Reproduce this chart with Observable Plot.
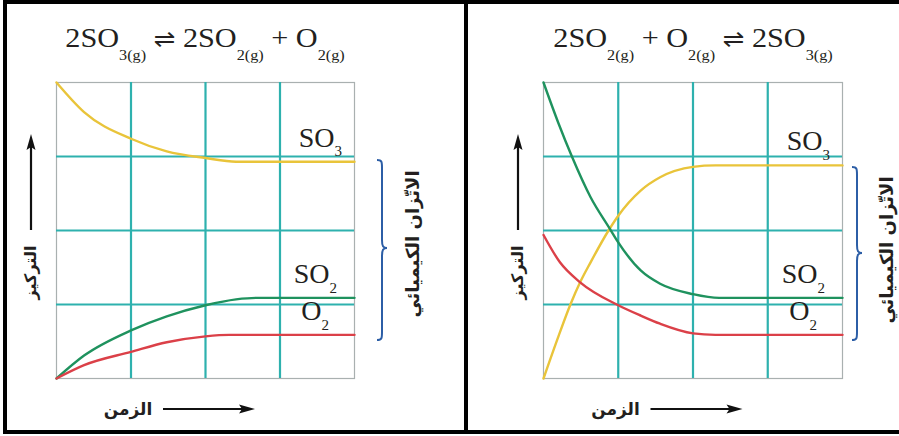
<!DOCTYPE html>
<html>
<head>
<meta charset="utf-8">
<script src="https://cdn.jsdelivr.net/npm/d3@7"></script>
<script src="https://cdn.jsdelivr.net/npm/@observablehq/plot@0.6"></script>
<style>
  body { margin: 0; background: #fff; }
  #page { position: relative; width: 899px; height: 436px; overflow: hidden; background: #fff; }
  .chart { position: absolute; top: 0; }
  .chart svg { background: transparent; }
  .border { position: absolute; left: 3px; top: 0; width: 960px; height: 434px; border: 4px solid #000; box-sizing: border-box; z-index: 5; pointer-events: none; }
  .divider { position: absolute; left: 464px; top: 0; width: 4px; height: 434px; background: #000; z-index: 5; }
  .title { position: absolute; top: 22px; font-family: "Liberation Serif", serif; font-size: 28px; line-height: 32px;
           white-space: nowrap; transform: translateX(-50%) scaleX(1.08); color: #231f20; z-index: 4; }
  .title sub { font-size: 15px; vertical-align: -13px; line-height: 0; }
  .title .arr { font-family: "DejaVu Sans", sans-serif; font-size: 24px; }
</style>
</head>
<body>
<div id="page">
  <div class="border"></div>
  <div class="divider"></div>
</div>
<script>
// ---------- data ----------
const species = ["SO3", "SO2", "O2"];
const speciesMain = ["SO", "SO", "O"];
const speciesSub = ["3", "2", "2"];
const speciesColors = ["#e9c43a", "#1f925e", "#db4048"];
const gridTicks = [1, 2, 3];

const yLabel = "التركيز";
const xLabel = "الزمن";
const eqLabel = "الاتّزان الكيميائي";

// equation titles: [main text, subscript]
const leftEquation = [["2SO", "3(g)"], ["⇌", ""], ["2SO", "2(g)"], ["+", ""], ["O", "2(g)"]];
const rightEquation = [["2SO", "2(g)"], ["+", ""], ["O", "2(g)"], ["⇌", ""], ["2SO", "3(g)"]];

// left panel: 2SO3 -> 2SO2 + O2
const leftTimeSO3 = [0, 0.37, 1.0, 1.48, 2.0, 2.41, 3, 4];
const leftSO3     = [4.0, 3.60, 3.24, 3.07, 2.98, 2.93, 2.93, 2.93];
const leftTimeSO2 = [0, 0.37, 1.0, 1.48, 2.0, 2.41, 2.68, 3, 4];
const leftSO2     = [0, 0.31, 0.65, 0.84, 0.99, 1.07, 1.09, 1.09, 1.09];
const leftTimeO2  = [0, 0.37, 1.0, 1.48, 2.0, 2.32, 3, 4];
const leftO2      = [0, 0.18, 0.36, 0.49, 0.57, 0.59, 0.59, 0.59];

// right panel: 2SO2 + O2 -> 2SO3
const rightTimeSO3 = [0, 0.2, 0.36, 0.49, 0.63, 0.87, 1.0, 1.3, 1.56, 2.0, 2.3, 3, 4];
const rightSO3     = [0, 0.57, 1.0, 1.30, 1.57, 2.0, 2.2, 2.54, 2.72, 2.86, 2.88, 2.88, 2.88];
const rightTimeSO2 = [0, 0.2, 0.38, 0.63, 0.89, 1.0, 1.3, 1.56, 2.0, 2.35, 3, 4];
const rightSO2     = [4.0, 3.45, 3.0, 2.45, 2.02, 1.84, 1.46, 1.28, 1.14, 1.09, 1.09, 1.09];
const rightTimeO2  = [0, 0.22, 0.49, 1.0, 1.3, 1.56, 2.0, 2.3, 3, 4];
const rightO2      = [1.94, 1.57, 1.30, 0.99, 0.85, 0.74, 0.61, 0.59, 0.59, 0.59];

// ---------- drawing ----------
const FONT_SERIF = "Liberation Serif";
const FONT_AR = "DejaVu Sans";
const TEAL = "#2eb1ae";
const labelDx = {SO3: -20, SO2: -25, O2: -33};

function buildRows(times, values) {
  return species.flatMap((s, k) => times[k].map((t, i) => ({species: s, t, c: values[k][i]})));
}

function centerText(svgEl, str, cxT, cyT) {
  const el = [...svgEl.querySelectorAll("text")].find(t => t.textContent === str);
  if (!el) return;
  const r = el.getBoundingClientRect(), s = svgEl.getBoundingClientRect();
  const ddx = cxT - (r.left - s.left + r.width / 2);
  const ddy = cyT - (r.top - s.top + r.height / 2);
  el.setAttribute("transform", `translate(${ddx},${ddy}) ` + (el.getAttribute("transform") || ""));
}

function makePanel(cfg) {
  const rows = buildRows(cfg.times, cfg.values);
  const last = species.map((s, k) => ({species: s, k, t: cfg.times[k][cfg.times[k].length - 1], c: cfg.values[k][cfg.values[k].length - 1]}));
  const labelMarks = last.flatMap(d => [
    Plot.text([d], {x: "t", y: "c", text: () => speciesMain[d.k], textAnchor: "end", dx: labelDx[d.species], dy: -24,
      fontSize: 28, fontFamily: FONT_SERIF, fill: "#231f20"}),
    Plot.text([d], {x: "t", y: "c", text: () => speciesSub[d.k], textAnchor: "start", dx: labelDx[d.species], dy: -10,
      fontSize: 15, fontFamily: FONT_SERIF, fill: "#231f20"})
  ]);
  const plot = Plot.plot({
    width: cfg.width, height: 436,
    marginLeft: cfg.ml, marginRight: cfg.mr, marginTop: 82, marginBottom: 58,
    x: {domain: [0, 4], axis: null},
    y: {domain: [0, 4], axis: null},
    color: {domain: species, range: speciesColors},
    style: {background: "transparent"},
    marks: [
      Plot.frame({stroke: "#a9b0b0", strokeWidth: 1.2}),
      Plot.gridX(gridTicks, {stroke: TEAL, strokeOpacity: 1, strokeWidth: 2.2}),
      Plot.gridY(gridTicks, {stroke: TEAL, strokeOpacity: 1, strokeWidth: 2.2}),
      Plot.line(rows, {x: "t", y: "c", z: "species", stroke: "species", strokeWidth: 2.4, curve: "monotone-x"}),
      ...labelMarks,
      Plot.text([yLabel], {frameAnchor: "left", rotate: -90, fontSize: 16, fontWeight: "bold", fontFamily: FONT_AR, fill: "#231f20"}),
      Plot.text([xLabel], {frameAnchor: "bottom", fontSize: 17, fontWeight: "bold", fontFamily: FONT_AR, fill: "#231f20"}),
      Plot.text([eqLabel], {frameAnchor: "right", rotate: -90, fontSize: 18, fontWeight: "bold", fontFamily: FONT_AR, fill: "#231f20"})
    ]
  });
  const wrap = document.createElement("div");
  wrap.className = "chart";
  wrap.style.left = cfg.left + "px";
  wrap.appendChild(plot);
  document.getElementById("page").appendChild(wrap);

  const fl = cfg.ml, fr = cfg.width - cfg.mr, ft = 82, fb = 436 - 58;
  const cx = (fl + fr) / 2, cy = (ft + fb) / 2;

  // position the Arabic labels by their rendered boxes
  centerText(plot, yLabel, fl - 26, cy + 43);
  centerText(plot, xLabel, cx - 77, fb + 31);
  centerText(plot, eqLabel, fr + cfg.eqDx, cfg.eqCy);

  // decorations: axis arrows and brace
  const g = d3.select(plot).append("g");
  const ax = fl - 25;
  g.append("line").attr("x1", ax).attr("x2", ax).attr("y1", cy).attr("y2", cy - 84).attr("stroke", "#111").attr("stroke-width", 2.2);
  g.append("path").attr("d", `M${ax},${cy - 96} L${ax - 4.5},${cy - 80} L${ax},${cy - 83} L${ax + 4.5},${cy - 80}Z`).attr("fill", "#111");
  const ay = fb + 31;
  g.append("line").attr("x1", cx - 42).attr("x2", cx + 38).attr("y1", ay).attr("y2", ay).attr("stroke", "#111").attr("stroke-width", 2.2);
  g.append("path").attr("d", `M${cx + 50},${ay} L${cx + 34},${ay - 4.5} L${cx + 37},${ay} L${cx + 34},${ay + 4.5}Z`).attr("fill", "#111");
  const bx = fr + cfg.braceDx, b0 = cfg.braceTop, b1 = 340, bm = cfg.braceMid, w = 10, h = w / 2, r = 8;
  const d = `M${bx},${b0} C${bx + h},${b0} ${bx + h},${b0 + 2} ${bx + h},${b0 + r}
             L${bx + h},${bm - r} C${bx + h},${bm - 2} ${bx + h + 1},${bm} ${bx + w},${bm}
             C${bx + h + 1},${bm} ${bx + h},${bm + 2} ${bx + h},${bm + r}
             L${bx + h},${b1 - r} C${bx + h},${b1 - 2} ${bx + h},${b1} ${bx},${b1}`;
  g.append("path").attr("d", d).attr("fill", "none").attr("stroke", "#2c5ea6").attr("stroke-width", 2);

  // title
  const t = document.createElement("div");
  t.className = "title";
  t.style.left = (cfg.left + cx) + "px";
  t.innerHTML = cfg.equation.map(([m, s]) =>
    (m === "⇌" ? `<span class="arr">${m}</span>` : m) + (s ? `<sub>${s}</sub>` : "")).join(" ");
  document.getElementById("page").appendChild(t);
}

makePanel({
  left: 0, width: 465, ml: 56, mr: 111,
  times: [leftTimeSO3, leftTimeSO2, leftTimeO2], values: [leftSO3, leftSO2, leftO2],
  eqDx: 59, eqCy: 244, braceDx: 23, braceTop: 160, braceMid: 248,
  equation: leftEquation
});
makePanel({
  left: 465, width: 434, ml: 78, mr: 57,
  times: [rightTimeSO3, rightTimeSO2, rightTimeO2], values: [rightSO3, rightSO2, rightO2],
  eqDx: 45, eqCy: 250, braceDx: 10, braceTop: 167, braceMid: 253,
  equation: rightEquation
});
</script>
</body>
</html>
